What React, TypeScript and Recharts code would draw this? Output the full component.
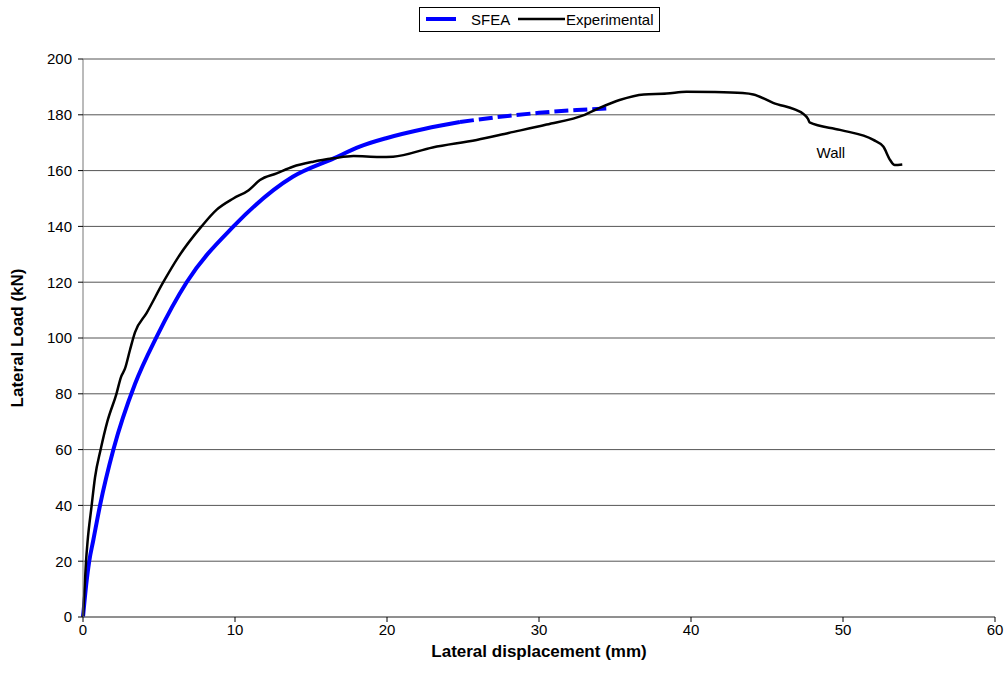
import React from 'react';
import { LineChart, Line, XAxis, YAxis, CartesianGrid, ReferenceDot } from 'recharts';

const sfeaSolid = [
  { x: 0, y: 0 }, { x: 0.24, y: 13 }, { x: 0.41, y: 20 }, { x: 0.68, y: 27.6 }, { x: 1.12, y: 40 },
  { x: 2.0, y: 60 }, { x: 3.42, y: 83.5 }, { x: 4.85, y: 100.5 }, { x: 6.82, y: 120 },
  { x: 9.9, y: 140 }, { x: 13.8, y: 157.8 }, { x: 16.5, y: 164.4 }, { x: 18.2, y: 168.6 },
  { x: 20, y: 171.7 }, { x: 22.5, y: 175 }, { x: 24.8, y: 177.4 },
];
const sfeaDashed = [
  { x: 24.8, y: 177.4 }, { x: 27, y: 179 }, { x: 30, y: 180.7 }, { x: 32.5, y: 181.7 }, { x: 34.5, y: 182.3 },
];
const experimental = [
  { x: 0, y: 0 }, { x: 0.13, y: 13 }, { x: 0.2, y: 20 }, { x: 0.3, y: 27 }, { x: 0.57, y: 40 },
  { x: 0.79, y: 50 }, { x: 1.16, y: 60 }, { x: 1.6, y: 70 }, { x: 2.2, y: 80 }, { x: 2.5, y: 86 },
  { x: 2.76, y: 89 }, { x: 3.09, y: 95.7 }, { x: 3.42, y: 102 }, { x: 4.19, y: 109 }, { x: 5.28, y: 120 },
  { x: 6.27, y: 129 }, { x: 7.8, y: 140 }, { x: 8.8, y: 146 }, { x: 9.89, y: 150 }, { x: 10.9, y: 153 },
  { x: 11.64, y: 156.6 }, { x: 12.74, y: 159 }, { x: 13.8, y: 161.4 }, { x: 15.15, y: 163.2 },
  { x: 16.5, y: 164.4 }, { x: 17.8, y: 165.2 }, { x: 19.5, y: 164.9 }, { x: 20.4, y: 165 },
  { x: 23.0, y: 168.3 }, { x: 25.9, y: 171 }, { x: 28, y: 173.5 }, { x: 30.5, y: 176.5 },
  { x: 33, y: 180 }, { x: 34, y: 182.5 }, { x: 35.3, y: 185.3 }, { x: 36.9, y: 187.3 },
  { x: 38.4, y: 187.6 }, { x: 39.7, y: 188.3 }, { x: 41.5, y: 188.2 }, { x: 43.4, y: 187.8 },
  { x: 44.1, y: 187.3 }, { x: 45.4, y: 184.3 }, { x: 47.4, y: 180.3 }, { x: 47.7, y: 178.5 },
  { x: 47.8, y: 177.3 }, { x: 49.8, y: 174.6 }, { x: 52.0, y: 171 }, { x: 52.65, y: 168.6 },
  { x: 53.1, y: 163.8 }, { x: 53.4, y: 162 }, { x: 53.9, y: 162.2 },
];
const xTicks = [0, 10, 20, 30, 40, 50, 60];
const yTicks = [0, 20, 40, 60, 80, 100, 120, 140, 160, 180, 200];
const wallLabel = { x: 49.2, y: 166.3, text: 'Wall' };
const legendItems = [
  { name: 'SFEA', color: '#0000ff', width: 4 },
  { name: 'Experimental', color: '#000000', width: 2.5 },
];

const FONT = '"Liberation Sans", Arial, sans-serif';

const LegendBox = () => (
  <div style={{
    position: 'absolute', left: 419, top: 7, zIndex: 2,
    border: '1px solid #000', background: '#fff', width: 241, height: 25, boxSizing: 'border-box',
    fontFamily: FONT, fontSize: 15, color: '#000',
  }}>
    <svg width={241} height={23} style={{ position: 'absolute', left: 0, top: 0 }}>
      <line x1={6} y1={11} x2={36} y2={11} stroke={legendItems[0].color} strokeWidth={legendItems[0].width} />
      <line x1={98} y1={11} x2={145} y2={11} stroke={legendItems[1].color} strokeWidth={legendItems[1].width} />
    </svg>
    <span style={{ position: 'absolute', left: 51, top: 3 }}>{legendItems[0].name}</span>
    <span style={{ position: 'absolute', left: 146, top: 3 }}>{legendItems[1].name}</span>
  </div>
);

export default function App() {
  return (
    <div style={{ position: 'absolute', left: 0, top: 0, width: 1008, height: 685, background: '#fff' }}>
      <LegendBox />
      <LineChart width={1008} height={685} margin={{ top: 59, right: 13, bottom: 30, left: 23 }}>
        <CartesianGrid vertical={false} stroke="#555" strokeWidth={1} />
        <XAxis
          type="number" dataKey="x" domain={[0, 60]} ticks={xTicks} height={38}
          tick={{ fill: '#000', fontSize: 15, fontFamily: FONT }} tickSize={5}
          stroke="#777" tickLine={{ stroke: '#000' }}
          label={{ value: 'Lateral displacement (mm)', position: 'insideBottom', offset: -2, fill: '#000', fontSize: 17, fontWeight: 'bold', fontFamily: FONT }}
        />
        <YAxis
          type="number" domain={[0, 200]} ticks={yTicks} width={60}
          tick={{ fill: '#000', fontSize: 15, fontFamily: FONT, dx: -4 }} tickSize={5}
          stroke="#777" tickLine={{ stroke: '#000' }}
          label={{ value: 'Lateral Load (kN)', angle: -90, position: 'insideLeft', offset: -6, fill: '#000', fontSize: 17, fontWeight: 'bold', fontFamily: FONT, style: { textAnchor: 'middle' } }}
        />
        <Line data={sfeaSolid} dataKey="y" type="monotone" stroke="#0000ff" strokeWidth={4} dot={false} isAnimationActive={false} />
        <Line data={sfeaDashed} dataKey="y" type="monotone" stroke="#0000ff" strokeWidth={4} strokeDasharray="14 5" dot={false} isAnimationActive={false} />
        <Line data={experimental} dataKey="y" type="monotone" stroke="#000" strokeWidth={2.5} dot={false} isAnimationActive={false} />
        <ReferenceDot x={wallLabel.x} y={wallLabel.y} r={0} fill="none" stroke="none"
          label={{ value: wallLabel.text, position: 'center', fill: '#000', fontSize: 15, fontFamily: FONT }} />
      </LineChart>
    </div>
  );
}
